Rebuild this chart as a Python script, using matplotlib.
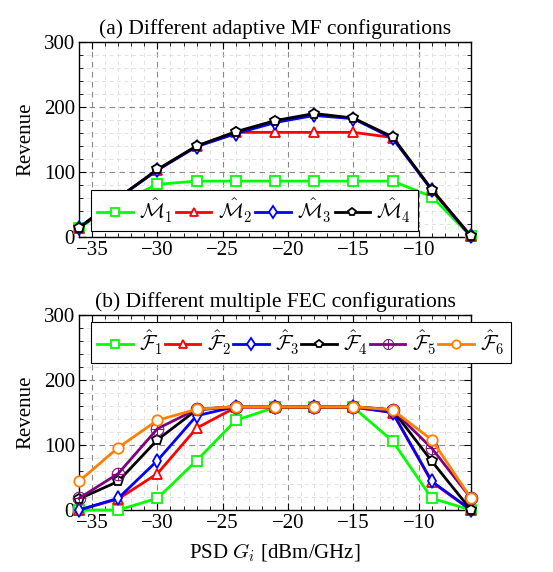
import matplotlib
matplotlib.use("Agg")
import matplotlib.pyplot as plt
from matplotlib.ticker import MultipleLocator

plt.rcParams['font.family'] = ['Liberation Serif', 'DejaVu Serif']
plt.rcParams['mathtext.fontset'] = 'cm'

psd = [-36, -33, -30, -27, -24, -21, -18, -15, -12, -9, -6]

m1 = [14, 52, 81, 86, 86, 86, 86, 86, 86, 62, 1]
m2 = [14, 60, 103, 140, 161, 161, 161, 161, 153, 73, 1]
m3 = [14, 60, 103, 139, 159, 176, 187, 182, 152, 72, 1]
m4 = [14, 60, 104, 140, 162, 179, 190, 183, 154, 73, 1]

f1 = [0, 0, 18, 76, 138, 158, 158, 158, 106, 18, 0]
f2 = [0, 17, 56, 126, 158, 158, 158, 158, 150, 43, 0]
f3 = [0, 18, 76, 145, 159, 159, 159, 159, 150, 44, 0]
f4 = [17, 44, 108, 154, 159, 159, 159, 159, 154, 75, 0]
f5 = [18, 56, 125, 155, 159, 159, 159, 159, 154, 95, 18]
f6 = [44, 96, 138, 155, 159, 159, 159, 159, 154, 108, 18]

top_labels = [r'$\hat{\mathcal{M}}_1$', r'$\hat{\mathcal{M}}_2$', r'$\hat{\mathcal{M}}_3$', r'$\hat{\mathcal{M}}_4$']
bot_labels = [r'$\hat{\mathcal{F}}_1$', r'$\hat{\mathcal{F}}_2$', r'$\hat{\mathcal{F}}_3$',
              r'$\hat{\mathcal{F}}_4$', r'$\hat{\mathcal{F}}_5$', r'$\hat{\mathcal{F}}_6$']

colors = ['#00ff00', '#ff0000', '#0000ff', '#000000', '#800080', '#ff8000']
markers = ['s', '^', 'd', 'p', '$\\oplus$', 'o']

W, H = 553, 572
fig = plt.figure(figsize=(W / 100, H / 100), dpi=100)

def add_ax(l, r, t, b):
    return fig.add_axes([l / W, 1 - b / H, (r - l) / W, (b - t) / H])

ax1 = add_ax(79, 471, 42, 237)
ax2 = add_ax(79, 471, 315, 510)

FS = 15

def style(ax):
    ax.set_xlim(-36, -6)
    ax.set_ylim(0, 300)
    ax.xaxis.set_major_locator(MultipleLocator(5))
    ax.xaxis.set_minor_locator(MultipleLocator(1))
    ax.yaxis.set_major_locator(MultipleLocator(100))
    ax.yaxis.set_minor_locator(MultipleLocator(20))
    ax.tick_params(which='both', direction='in', top=True, right=True, labelsize=FS, pad=3)
    ax.tick_params(which='major', length=5)
    ax.tick_params(which='minor', length=3)
    ax.grid(which='major', linestyle=(0, (5, 4)), color='#888888', linewidth=0.8)
    ax.grid(which='minor', linestyle=(0, (5, 4)), color='#dddddd', linewidth=0.6)
    ax.set_axisbelow(True)
    ax.set_ylabel('Revenue', fontsize=FS, labelpad=6)
    for s in ax.spines.values():
        s.set_linewidth(1.0)

style(ax1)
style(ax2)

for ys, lab, c, mk in zip([m1, m2, m3, m4], top_labels, colors[:4], markers[:4]):
    ax1.plot(psd, ys, color=c, marker=mk, markersize=7.5, markerfacecolor='white',
             markeredgecolor=c, markeredgewidth=1.3, linewidth=2, label=lab, clip_on=False, zorder=3)

for ys, lab, c, mk in zip([f1, f2, f3, f4, f5, f6], bot_labels, colors, markers):
    if mk.startswith('$'):
        ax2.plot(psd, ys, color=c, marker=mk, markersize=9.5, markerfacecolor=c,
                 markeredgecolor=c, markeredgewidth=0.3, linewidth=2, label=lab, clip_on=False, zorder=3)
    else:
        ax2.plot(psd, ys, color=c, marker=mk, markersize=7.5, markerfacecolor='white',
                 markeredgecolor=c, markeredgewidth=1.3, linewidth=2, label=lab, clip_on=False, zorder=3)

common = dict(fontsize=FS, frameon=True, fancybox=False, framealpha=1, edgecolor='black',
              handlelength=1.7, handletextpad=0.3, borderpad=0.3, borderaxespad=0,
              markerscale=0.8)

leg1 = ax1.legend(loc='lower left', bbox_to_anchor=((91 - 79) / 392, (237 - 231) / 195),
                  ncol=4, columnspacing=0.15, **common)
leg1.get_frame().set_linewidth(0.8)
leg1.set_zorder(5)

leg2 = ax2.legend(loc='upper left', bbox_to_anchor=((91 - 79) / 392, (510 - 322) / 195),
                  ncol=6, columnspacing=0.1, **common)
leg2.get_frame().set_linewidth(0.8)
leg2.set_zorder(5)

ax1.set_title('(a) Different adaptive MF configurations', fontsize=FS + 0.5, pad=6)
ax2.set_title('(b) Different multiple FEC configurations', fontsize=FS + 0.5, pad=6)
ax2.set_xlabel(r'PSD $G_i$ [dBm/GHz]', fontsize=FS, labelpad=6)

fig.savefig('out.png', dpi=100)
